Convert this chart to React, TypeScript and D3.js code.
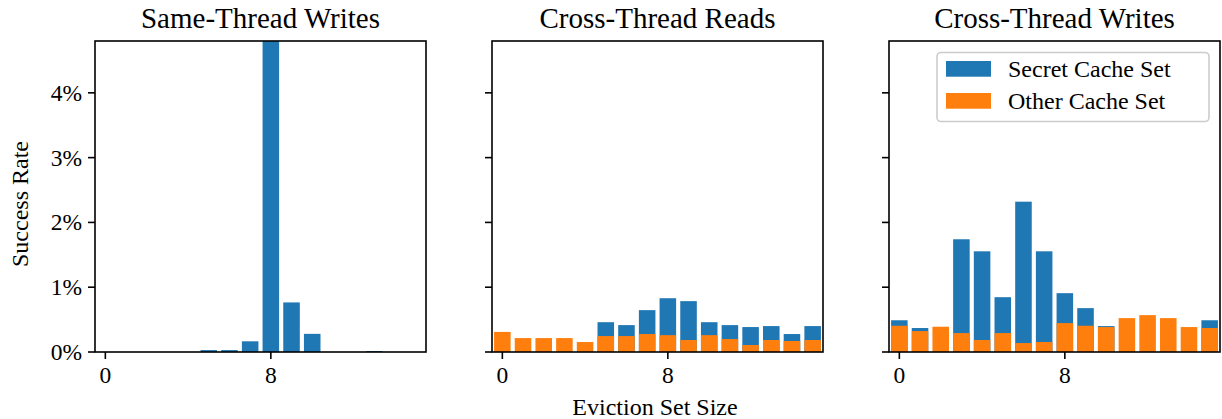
import React from "react";
import * as d3 from "d3";

// eviction set sizes on the x axis
const sizes = [0, 1, 2, 3, 4, 5, 6, 7, 8, 9, 10, 11, 12, 13, 14, 15];

// success rate in percent
const sameThreadSecret = [0, 0, 0, 0, 0, 0.03, 0.03, 0.165, 5.8, 0.765, 0.28, 0, 0, 0.015, 0, 0];
const sameThreadOther = [0, 0, 0, 0, 0, 0, 0, 0, 0, 0, 0, 0, 0, 0, 0, 0];

const crossReadSecret = [0, 0, 0, 0, 0, 0.46, 0.415, 0.646, 0.83, 0.785, 0.46, 0.415, 0.385, 0.4, 0.277, 0.4];
const crossReadOther = [0.31, 0.215, 0.215, 0.215, 0.154, 0.246, 0.246, 0.277, 0.26, 0.185, 0.26, 0.2, 0.108, 0.185, 0.17, 0.185];

const crossWriteSecret = [0.49, 0.37, 0, 1.74, 1.554, 0.846, 2.32, 1.554, 0.908, 0.677, 0.4, 0, 0, 0, 0, 0.49];
const crossWriteOther = [0.405, 0.323, 0.39, 0.292, 0.185, 0.292, 0.138, 0.154, 0.446, 0.405, 0.385, 0.523, 0.569, 0.523, 0.385, 0.37];

const panels = [
  { title: "Same-Thread Writes", secret: sameThreadSecret, other: sameThreadOther },
  { title: "Cross-Thread Reads", secret: crossReadSecret, other: crossReadOther },
  { title: "Cross-Thread Writes", secret: crossWriteSecret, other: crossWriteOther },
];

const yTicks = [0, 1, 2, 3, 4];
const xTicks = [0, 8];
const seriesNames = ["Secret Cache Set", "Other Cache Set"];

const BLUE = "#1f77b4";
const ORANGE = "#ff7f0e";
const FONT = "'Liberation Serif', 'Times New Roman', serif";

const width = 1222;
const height = 419;
const panelLefts = [95, 492, 889];
const panelW = 331;
const top = 41;
const bottom = 352;

const y = d3.scaleLinear().domain([0, 4.8]).range([bottom, top]);

const Panel = ({ idx }: { idx: number }) => {
  const p = panels[idx];
  const left = panelLefts[idx];
  const x = d3.scaleLinear().domain([-0.5, 15.5]).range([left, left + panelW]);
  const bw = x(0.8) - x(0);
  const clipId = `clip-${idx}`;

  return (
    <g>
      <clipPath id={clipId}>
        <rect x={left} y={top} width={panelW} height={bottom - top} />
      </clipPath>
      <g clipPath={`url(#${clipId})`}>
        {sizes.map((s, i) => (
          <rect
            key={"s" + i}
            x={x(s) - bw / 2}
            y={y(p.secret[i])}
            width={bw}
            height={bottom - y(p.secret[i])}
            fill={BLUE}
          />
        ))}
        {sizes.map((s, i) => (
          <rect
            key={"o" + i}
            x={x(s) - bw / 2}
            y={y(p.other[i])}
            width={bw}
            height={bottom - y(p.other[i])}
            fill={ORANGE}
          />
        ))}
      </g>

      {/* y ticks */}
      {yTicks.map((t) => (
        <g key={"y" + t}>
          <line x1={left - 7} x2={left} y1={y(t)} y2={y(t)} stroke="#000" strokeWidth={1.6} />
          {idx === 0 && (
            <text
              x={left - 13}
              y={y(t)}
              textAnchor="end"
              dominantBaseline="central"
              fontSize={23.5}
              fontFamily={FONT}
            >
              {t}%
            </text>
          )}
        </g>
      ))}

      {/* x ticks */}
      {xTicks.map((t) => (
        <g key={"x" + t}>
          <line x1={x(t)} x2={x(t)} y1={bottom} y2={bottom + 7} stroke="#000" strokeWidth={1.6} />
          <text x={x(t)} y={bottom + 31} textAnchor="middle" fontSize={23.5} fontFamily={FONT}>
            {t}
          </text>
        </g>
      ))}

      <rect
        x={left}
        y={top}
        width={panelW}
        height={bottom - top}
        fill="none"
        stroke="#000"
        strokeWidth={1.6}
      />
      <text x={left + panelW / 2} y={28} textAnchor="middle" fontSize={29} fontFamily={FONT}>
        {p.title}
      </text>
    </g>
  );
};

const Legend = () => {
  const lx = 937;
  const ly = 52.5;
  return (
    <g>
      <rect x={lx} y={ly} width={272} height={69} rx={4} fill="#fff" fillOpacity={0.8} stroke="#cccccc" strokeWidth={1.6} />
      {seriesNames.map((name, i) => (
        <g key={name}>
          <rect x={lx + 9} y={ly + 8.5 + i * 32} width={45} height={15.7} fill={i === 0 ? BLUE : ORANGE} />
          <text
            x={lx + 71}
            y={ly + 16.5 + i * 32}
            dominantBaseline="central"
            fontSize={24}
            fontFamily={FONT}
          >
            {name}
          </text>
        </g>
      ))}
    </g>
  );
};

export default function App() {
  return (
    <svg
      width={width}
      height={height}
      style={{ position: "absolute", left: 0, top: 0, background: "#fff" }}
    >
      {panels.map((_, i) => (
        <Panel key={i} idx={i} />
      ))}
      <Legend />
      <text x={655} y={415} textAnchor="middle" fontSize={24} fontFamily={FONT}>
        Eviction Set Size
      </text>
      <text
        transform="translate(28,204) rotate(-90)"
        textAnchor="middle"
        fontSize={24}
        fontFamily={FONT}
      >
        Success Rate
      </text>
    </svg>
  );
}
